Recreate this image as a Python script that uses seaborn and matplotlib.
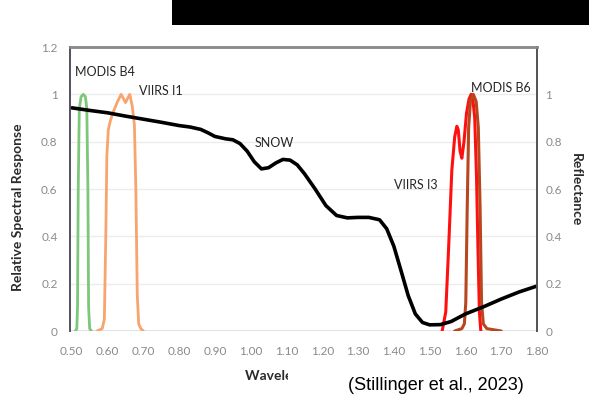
import matplotlib
matplotlib.use("Agg")
import matplotlib.pyplot as plt
from matplotlib.patches import Rectangle
import seaborn as sns
import pandas as pd

# ---- data ----
snow_wl = [0.50, 0.55, 0.60, 0.65, 0.70, 0.75, 0.80, 0.83, 0.86, 0.88, 0.90, 0.93, 0.95,
           0.97, 0.99, 1.01, 1.03, 1.05, 1.07, 1.09, 1.11, 1.13, 1.15, 1.18, 1.21, 1.24,
           1.27, 1.30, 1.33, 1.36, 1.38, 1.40, 1.42, 1.44, 1.46, 1.48, 1.50, 1.53, 1.56,
           1.60, 1.65, 1.70, 1.75, 1.80]
snow_refl = [0.943, 0.932, 0.922, 0.908, 0.895, 0.882, 0.868, 0.862, 0.852, 0.838, 0.822, 0.812, 0.808,
             0.792, 0.760, 0.715, 0.685, 0.690, 0.710, 0.725, 0.722, 0.702, 0.665, 0.600, 0.530, 0.488,
             0.478, 0.480, 0.480, 0.470, 0.432, 0.358, 0.255, 0.150, 0.072, 0.036, 0.026, 0.027, 0.040,
             0.072, 0.102, 0.135, 0.165, 0.190]

b4_wl = [0.510, 0.514, 0.516, 0.518, 0.521, 0.526, 0.532, 0.538, 0.542, 0.545, 0.547, 0.550, 0.555]
b4_resp = [0.0, 0.01, 0.10, 0.60, 0.94, 0.99, 1.00, 0.99, 0.94, 0.60, 0.10, 0.01, 0.0]

i1_wl = [0.570, 0.585, 0.591, 0.595, 0.598, 0.602, 0.608, 0.617, 0.628, 0.638, 0.645, 0.650,
         0.655, 0.662, 0.669, 0.675, 0.679, 0.683, 0.687, 0.693, 0.700]
i1_resp = [0.0, 0.01, 0.05, 0.40, 0.74, 0.85, 0.89, 0.93, 0.97, 1.00, 0.98, 0.965,
           0.98, 1.00, 0.95, 0.87, 0.60, 0.15, 0.03, 0.01, 0.0]

i3_wl = [1.535, 1.545, 1.553, 1.562, 1.570, 1.576, 1.580, 1.585, 1.590, 1.596, 1.603,
         1.610, 1.616, 1.620, 1.626, 1.631, 1.635, 1.639, 1.643]
i3_resp = [0.0, 0.08, 0.35, 0.68, 0.82, 0.865, 0.85, 0.76, 0.73, 0.80, 0.92,
           0.98, 1.00, 0.99, 0.90, 0.65, 0.35, 0.08, 0.0]

b6_wl = [1.570, 1.590, 1.597, 1.601, 1.605, 1.609, 1.614, 1.622, 1.630, 1.636, 1.641,
         1.645, 1.650, 1.660, 1.680, 1.700]
b6_resp = [0.0, 0.01, 0.03, 0.12, 0.52, 0.86, 0.97, 1.00, 0.97, 0.86, 0.52,
           0.12, 0.03, 0.01, 0.005, 0.0]

x_ticks = [0.50, 0.60, 0.70, 0.80, 0.90, 1.00, 1.10, 1.20, 1.30, 1.40, 1.50, 1.60, 1.70, 1.80]
left_ticks = [0, 0.2, 0.4, 0.6, 0.8, 1.0, 1.2]
left_tick_labels = ["0", "0.2", "0.4", "0.6", "0.8", "1", "1.2"]
right_ticks = [0, 0.2, 0.4, 0.6, 0.8, 1.0]
right_tick_labels = ["0", "0.2", "0.4", "0.6", "0.8", "1"]

band_labels = ["MODIS B4", "VIIRS I1", "SNOW", "VIIRS I3", "MODIS B6"]
band_label_pos = [(0.508, 1.094), (0.688, 1.012), (1.010, 0.796), (1.400, 0.619), (1.615, 1.027)]

# ---- style ----
sns.set_theme(style="white")
plt.rcParams["font.family"] = ["Lato", "DejaVu Sans"]

fig = plt.figure(figsize=(5.89, 4.03), dpi=100)
ax = fig.add_axes([70/589, 1-331/403, (537-70)/589, (331-47)/403])
ax2 = ax.twinx()

# baselines of other responses (faint)
ax.axhline(0, color="#d5dde6", lw=1.2, zorder=1)

sns.lineplot(x=b4_wl, y=b4_resp, ax=ax, color="#7cc77a", lw=2.0, zorder=3)
sns.lineplot(x=i1_wl, y=i1_resp, ax=ax, color="#f7a46e", lw=2.0, zorder=3)
sns.lineplot(x=i3_wl, y=i3_resp, ax=ax, color="#ff1010", lw=2.2, zorder=3)
sns.lineplot(x=b6_wl, y=b6_resp, ax=ax, color="#b8461e", lw=2.2, zorder=4)

sns.lineplot(x=snow_wl, y=snow_refl, ax=ax2, color="black", lw=2.6)

for a in (ax, ax2):
    a.set_xlim(0.495, 1.80)
    a.set_ylim(0, 1.2)

ax.set_xticks(x_ticks)
ax.set_xticklabels([f"{v:.2f}" for v in x_ticks])
ax.set_yticks(left_ticks)
ax.set_yticklabels(left_tick_labels)
ax2.set_yticks(right_ticks)
ax2.set_yticklabels(right_tick_labels)

ax.tick_params(axis="x", length=0, pad=11, labelsize=8.5, labelcolor="#8a8a8a")
ax.tick_params(axis="y", length=0, pad=9, labelsize=8.5, labelcolor="#8a8a8a")
ax2.tick_params(axis="y", length=0, pad=6, labelsize=8.5, labelcolor="#8a8a8a")

ax.grid(axis="y", color="#ececec", lw=1.0)
ax.set_axisbelow(True)

for a in (ax, ax2):
    a.spines["left"].set_color("#555060")
    a.spines["left"].set_linewidth(1.2)
    a.spines["right"].set_color("#555555")
    a.spines["right"].set_linewidth(1.3)
    a.spines["top"].set_color("#8c8c8c")
    a.spines["top"].set_linewidth(1.8)
    a.spines["bottom"].set_visible(False)

ax.set_ylabel("Relative Spectral Response", fontsize=10, color="#2a2a2a", fontweight="bold",
              va="center")
ax.yaxis.set_label_coords((18 - 70) / 467, (331 - 207) / 284)
ax2.set_ylabel("Reflectance", fontsize=10, color="#2a2a2a", rotation=270, fontweight="bold",
               va="center")
ax2.yaxis.set_label_coords(1 + (576 - 537) / 467, (331 - 190) / 284)
ax.set_xlabel("Wavelength (\u00b5m)", fontsize=10, color="#2a2a2a", fontweight="bold",
              ha="left", va="center")
ax.xaxis.set_label_coords((245 - 70) / 467, (331 - 376) / 284)

for txt, (x, y) in zip(band_labels, band_label_pos):
    ax.text(x, y, txt, fontsize=9, color="#262626", ha="left", va="center", zorder=6)

# cover box and caption
fig.patches.append(Rectangle((288/589, 0), 1 - 288/589, 1 - 365/403,
                             transform=fig.transFigure, facecolor="white",
                             edgecolor="none", zorder=10))
fig.text(348/589, 1 - 385/403, "(Stillinger et al., 2023)", fontsize=13,
         family=["Liberation Sans", "DejaVu Sans"], color="black",
         ha="left", va="center", zorder=11)

# black bar at top
fig.patches.append(Rectangle((172/589, 1 - 25/403), 1 - 172/589, 25/403,
                             transform=fig.transFigure, facecolor="black",
                             edgecolor="none", zorder=10))

fig.savefig("out.png", dpi=100)
